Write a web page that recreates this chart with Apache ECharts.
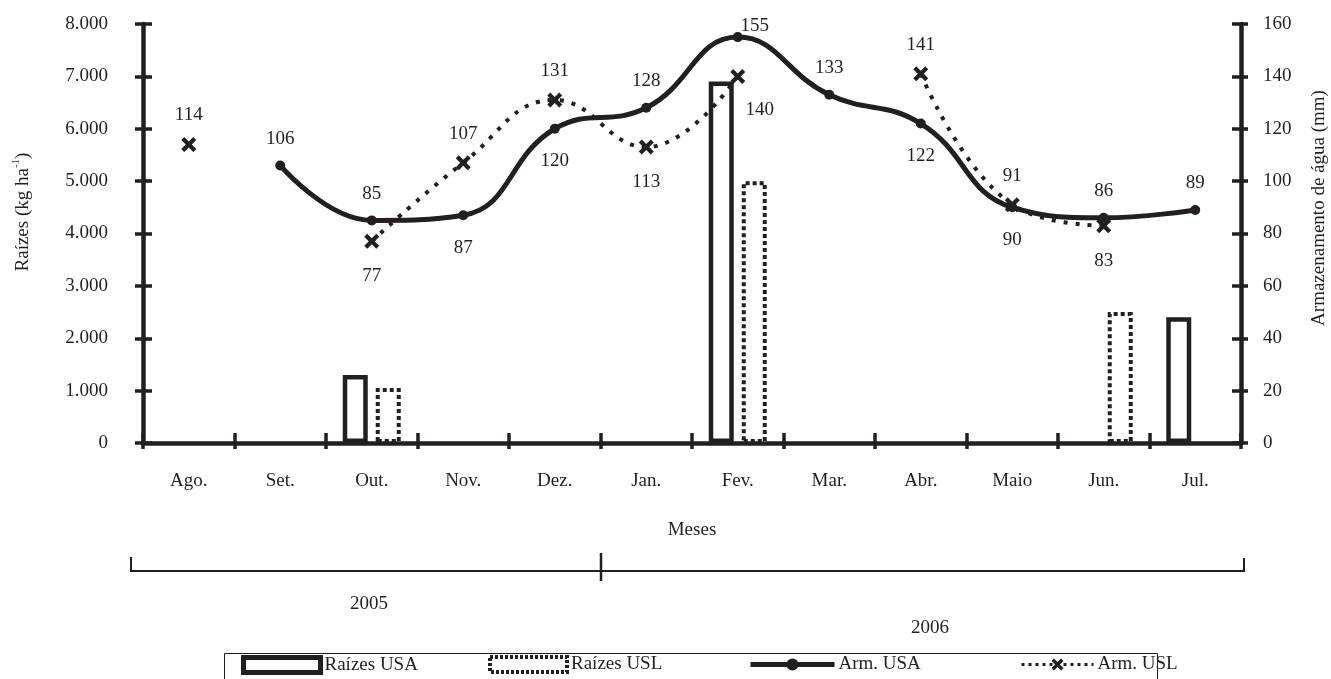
<!DOCTYPE html>
<html>
<head>
<meta charset="utf-8">
<script src="https://cdn.jsdelivr.net/npm/echarts@6/dist/echarts.min.js"></script>
<style>html,body{margin:0;padding:0;background:#fff;}#c{width:1331px;height:679px;}</style>
</head>
<body>
<div id="c"></div>
<script>
// ---- data ----
const categories = ['Ago.', 'Set.', 'Out.', 'Nov.', 'Dez.', 'Jan.', 'Fev.', 'Mar.', 'Abr.', 'Maio', 'Jun.', 'Jul.'];
const raizesUSA = [null, null, 1300, null, null, null, 6900, null, null, null, null, 2400];
const raizesUSL = [null, null, 1050, null, null, null, 5000, null, null, null, 2500, null];
const armUSA = [null, 106, 85, 87, 120, 128, 155, 133, 122, 90, 86, 89];
const armUSL = [114, null, 77, 107, 131, 113, 140, null, 141, 91, 83, null];
const leftTicks = { min: 0, max: 8000, interval: 1000 };
const rightTicks = { min: 0, max: 160, interval: 20 };
const yearLabels = ['2005', '2006'];
// label placement (styling, kept apart from values)
const usaLabelPos = [null, 'top', 'top', 'bottom', 'bottom', 'top', 'topright', 'top', 'bottom', 'bottom', 'top', 'top'];
const uslLabelPos = ['top', null, 'bottom', 'top', 'top', 'bottom', 'bottomright', null, 'top', 'top', 'bottom', null];

const FONT = "'Liberation Serif', 'Times New Roman', serif";
const TXT = '#231f20';
const FS = 19;

function labelFor(pos) {
  const base = { show: true, color: TXT, fontFamily: FONT, fontSize: FS, formatter: '{c}' };
  if (pos === 'top') return Object.assign(base, { position: 'top', distance: 12 });
  if (pos === 'bottom') return Object.assign(base, { position: 'bottom', distance: 18 });
  if (pos === 'topright') return Object.assign(base, { position: 'top', distance: 5, offset: [17, 8] });
  if (pos === 'bottomright') return Object.assign(base, { position: 'bottom', distance: 5, offset: [22, 12] });
  return { show: false };
}
function lineData(vals, pos) {
  return vals.map((v, i) => v == null ? null : { value: v, label: labelFor(pos[i]) });
}

const xPath = 'path://M0,2 L2,0 L5,3 L8,0 L10,2 L7,5 L10,8 L8,10 L5,7 L2,10 L0,8 L3,5 Z';

const chart = echarts.init(document.getElementById('c'), null, { renderer: 'canvas' });
const axisLineStyle = { color: TXT, width: 4.5 };
const tickStyle = { color: TXT, width: 3.5 };
const legendText = { color: TXT, fontFamily: FONT, fontSize: FS, padding: [0, 0, 0, -1] };
const legendBase = { itemWidth: 77, itemHeight: 15, itemGap: 0, padding: 0, top: 655, selectedMode: false, textStyle: legendText };

const option = {
  backgroundColor: '#fff',
  animation: false,
  textStyle: { fontFamily: FONT, color: TXT },
  grid: { left: 143, right: 90, top: 24, bottom: 236 },
  xAxis: [
    {
      type: 'category', data: categories, position: 'bottom',
      axisLine: { show: true, lineStyle: axisLineStyle },
      axisTick: { show: true, length: 6, lineStyle: tickStyle, alignWithLabel: false },
      axisLabel: { color: TXT, fontFamily: FONT, fontSize: FS, margin: 29 },
      name: 'Meses', nameLocation: 'middle', nameGap: 78,
      nameTextStyle: { color: TXT, fontFamily: FONT, fontSize: FS },
      splitLine: { show: false }
    },
    {
      type: 'category', data: categories, position: 'bottom',
      axisLine: { show: false },
      axisTick: { show: true, inside: true, length: 10, lineStyle: tickStyle },
      axisLabel: { show: false }, splitLine: { show: false }
    }
  ],
  yAxis: [
    {
      type: 'value', position: 'left', min: leftTicks.min, max: leftTicks.max, interval: leftTicks.interval,
      axisLine: { show: true, lineStyle: axisLineStyle },
      axisTick: { show: true, length: 8, lineStyle: tickStyle },
      axisLabel: {
        color: TXT, fontFamily: FONT, fontSize: FS, margin: 35,
        formatter: v => v === 0 ? '0' : (v / 1000).toFixed(3)
      },
      splitLine: { show: false }
    },
    {
      type: 'value', position: 'right', min: rightTicks.min, max: rightTicks.max, interval: rightTicks.interval,
      axisLine: { show: true, lineStyle: axisLineStyle },
      axisTick: { show: true, length: 7, lineStyle: tickStyle },
      axisLabel: { color: TXT, fontFamily: FONT, fontSize: FS, margin: 22 },
      splitLine: { show: false }
    },
    {
      type: 'value', position: 'left', min: leftTicks.min, max: leftTicks.max, interval: leftTicks.interval,
      axisLine: { show: false }, axisLabel: { show: false }, splitLine: { show: false },
      axisTick: { show: true, inside: true, length: 9, lineStyle: tickStyle }
    },
    {
      type: 'value', position: 'right', min: rightTicks.min, max: rightTicks.max, interval: rightTicks.interval,
      axisLine: { show: false }, axisLabel: { show: false }, splitLine: { show: false },
      axisTick: { show: true, inside: true, length: 9, lineStyle: tickStyle }
    }
  ],
  legend: [
    Object.assign({}, legendBase, { data: [{ name: 'Raízes USA', icon: 'rect' }], left: 241,
      itemStyle: { color: '#fff', borderColor: TXT, borderWidth: 5 } }),
    Object.assign({}, legendBase, { data: [{ name: 'Raízes USL', icon: 'rect' }], left: 488,
      itemStyle: { color: '#fff', borderColor: TXT, borderWidth: 4, borderType: [3, 2] } }),
    Object.assign({}, legendBase, { data: ['Arm. USA'], left: 748, itemWidth: 84,
      lineStyle: { color: TXT, width: 5 }, itemStyle: { color: TXT } }),
    Object.assign({}, legendBase, { data: ['Arm. USL'], left: 1020, itemWidth: 72,
      lineStyle: { color: TXT, width: 3, type: [3, 4] }, itemStyle: { color: TXT } })
  ],
  graphic: [
    { type: 'text', x: 23, y: 212, rotation: Math.PI / 2,
      style: { text: '{a|Raízes (kg ha}{s|-1}{a|)}', align: 'center', verticalAlign: 'middle',
        rich: { a: { fontFamily: FONT, fontSize: FS, fill: TXT, lineHeight: 24 },
                s: { fontFamily: FONT, fontSize: 11, fill: TXT, lineHeight: 24, verticalAlign: 'top' } } } },
    { type: 'text', x: 1319, y: 208, rotation: Math.PI / 2,
      style: { text: 'Armazenamento de água (mm)', align: 'center', verticalAlign: 'middle',
        font: FS + 'px ' + FONT, fill: TXT } },
    { type: 'polyline', shape: { points: [[131, 557], [131, 571], [1244, 571], [1244, 558]] },
      style: { stroke: TXT, lineWidth: 2, fill: null } },
    { type: 'line', shape: { x1: 601, y1: 553, x2: 601, y2: 581 }, style: { stroke: TXT, lineWidth: 2.5 } },
    { type: 'text', x: 369, y: 604, style: { text: yearLabels[0], align: 'center', verticalAlign: 'middle', font: FS + 'px ' + FONT, fill: TXT } },
    { type: 'text', x: 930, y: 628, style: { text: yearLabels[1], align: 'center', verticalAlign: 'middle', font: FS + 'px ' + FONT, fill: TXT } },
    { type: 'rect', shape: { x: 224.5, y: 653.5, width: 933, height: 40 }, style: { stroke: TXT, lineWidth: 1, fill: null }, z: -1 }
  ],
  series: [
    {
      name: 'Raízes USA', type: 'bar', data: raizesUSA, xAxisIndex: 0, yAxisIndex: 0,
      barWidth: 25, barGap: '32%',
      itemStyle: { color: '#fff', borderColor: TXT, borderWidth: 4.5 }, z: 2
    },
    {
      name: 'Raízes USL', type: 'bar', data: raizesUSL, xAxisIndex: 0, yAxisIndex: 0,
      barWidth: 25, barGap: '32%',
      itemStyle: { color: '#fff', borderColor: TXT, borderWidth: 4, borderType: [4, 3] }, z: 2
    },
    {
      name: 'Arm. USA', type: 'line', data: lineData(armUSA, usaLabelPos), xAxisIndex: 0, yAxisIndex: 1,
      smooth: 0.45, symbol: 'circle', symbolSize: 10, showAllSymbol: true,
      lineStyle: { color: TXT, width: 5 }, itemStyle: { color: TXT }, z: 4
    },
    {
      name: 'Arm. USL', type: 'line', data: lineData(armUSL, uslLabelPos), xAxisIndex: 0, yAxisIndex: 1,
      smooth: 0.45, symbol: xPath, symbolSize: 15, showAllSymbol: true,
      lineStyle: { color: TXT, width: 4, type: [4, 8] }, itemStyle: { color: TXT }, z: 3
    }
  ]
};
chart.setOption(option);
</script>
</body>
</html>
